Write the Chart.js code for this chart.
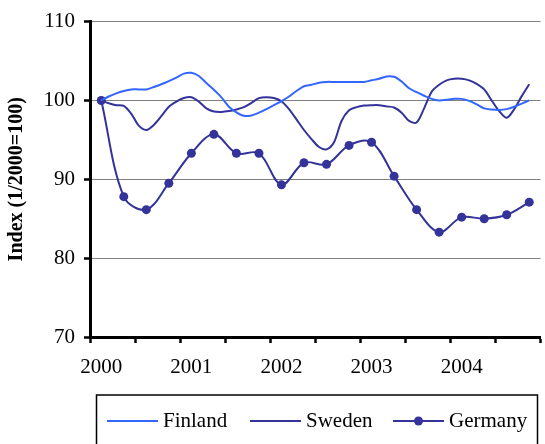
<!DOCTYPE html>
<html>
<head>
<meta charset="utf-8">
<script src="https://cdn.jsdelivr.net/npm/chart.js@4.4.1/dist/chart.umd.min.js"></script>
<style>
  html, body { margin: 0; padding: 0; background: #fff; }
  #wrap { width: 545px; height: 444px; }
</style>
</head>
<body>
<div id="wrap"><canvas id="idx" width="545" height="444"></canvas></div>
<script>
"use strict";

// monthly index values, Jan 2000 .. Oct 2004
const finland = [
  100.0, 100.5, 100.9, 101.2, 101.4, 101.4, 101.4, 101.7, 102.05, 102.45, 102.9, 103.4,
  103.5, 103.1, 102.2, 101.35, 100.4, 99.2, 98.5, 98.05, 98.1, 98.45, 98.9, 99.4,
  99.9, 100.5, 101.2, 101.8, 102.0, 102.25, 102.35, 102.35, 102.35, 102.35, 102.35, 102.35,
  102.55, 102.75, 103.05, 103.0, 102.4, 101.55, 101.05, 100.6, 100.2, 100.0, 100.1, 100.2,
  100.2, 99.95, 99.5, 99.0, 98.85, 98.8, 98.9, 99.2, 99.6, 100.0,
];
const sweden = [
  100.0, 99.65, 99.4, 99.3, 98.3, 96.8, 96.25, 96.9, 98.0, 99.2, 99.85, 100.3,
  100.4, 99.85, 99.0, 98.6, 98.55, 98.65, 98.85, 99.15, 99.7, 100.3, 100.4, 100.3,
  99.9, 98.9, 97.6, 96.25, 95.1, 94.1, 93.8, 94.7, 97.4, 98.75, 99.15, 99.35,
  99.4, 99.4, 99.25, 99.1, 98.45, 97.4, 97.2, 99.0, 101.1, 102.0, 102.55, 102.75,
  102.75, 102.55, 102.1, 101.4, 100.0, 98.65, 97.8, 98.9, 100.55, 102.05,
];
// quarterly values (every third month)
const germany = [
  100.0, 87.8, 86.15, 89.5, 93.3, 95.7, 93.3, 93.3, 89.3, 92.1,
  91.9, 94.3, 94.7, 90.4, 86.15, 83.3, 85.2, 85.0, 85.5, 87.1,
];
const yearLabels = ["2000", "2001", "2002", "2003", "2004"];
const yTicks = [70, 80, 90, 100, 110];

const FONT = "'Liberation Serif', 'Times New Roman', serif";
const LIGHT = "#3366ff";
const DARK = "#333399";

const monthly = (arr) => arr.map((v, i) => ({ x: i, y: v }));
const quarterly = (arr) => arr.map((v, i) => ({ x: i * 3, y: v }));

const boxLegend = {
  id: "boxLegend",
  afterDraw(chart) {
    const ctx = chart.ctx;
    const top = chart.chartArea.bottom + 58;
    const mid = top + 26;
    ctx.save();
    ctx.strokeStyle = "#000";
    ctx.lineWidth = 1.5;
    ctx.strokeRect(96.5, top, 441, 60);
    ctx.font = "21px " + FONT;
    ctx.textBaseline = "middle";
    ctx.fillStyle = "#000";
    const starts = [107, 250, 393];
    chart.data.datasets.forEach((ds, i) => {
      const x0 = starts[i];
      ctx.strokeStyle = ds.borderColor;
      ctx.lineWidth = 2;
      ctx.beginPath();
      ctx.moveTo(x0, mid);
      ctx.lineTo(x0 + 51, mid);
      ctx.stroke();
      if (ds.pointRadius > 0) {
        ctx.fillStyle = ds.pointBackgroundColor;
        ctx.beginPath();
        ctx.arc(x0 + 25.5, mid, ds.pointRadius, 0, Math.PI * 2);
        ctx.fill();
      }
      ctx.fillStyle = "#000";
      ctx.fillText(ds.label, x0 + 56, mid);
    });
    ctx.restore();
  },
};

new Chart(document.getElementById("idx"), {
  type: "line",
  plugins: [boxLegend],
  data: {
    datasets: [
      {
        label: "Finland",
        data: monthly(finland),
        borderColor: LIGHT,
        borderWidth: 2,
        pointRadius: 0,
        tension: 0.3,
      },
      {
        label: "Sweden",
        data: monthly(sweden),
        borderColor: DARK,
        borderWidth: 2,
        pointRadius: 0,
        tension: 0.3,
      },
      {
        label: "Germany",
        data: quarterly(germany),
        borderColor: DARK,
        borderWidth: 2,
        pointRadius: 4.5,
        pointBorderWidth: 0,
        pointBackgroundColor: DARK,
        tension: 0.35,
      },
    ],
  },
  options: {
    responsive: false,
    animation: false,
    layout: { padding: { top: 20, right: 1, left: 0, bottom: 0 } },
    plugins: { legend: { display: false }, tooltip: { enabled: false } },
    scales: {
      x: {
        type: "linear",
        position: "bottom",
        min: -1.5,
        max: 58.5,
        afterBuildTicks: (s) => {
          s.ticks = [];
          for (let v = -1.5; v <= 58.5; v += 6) s.ticks.push({ value: v });
        },
        afterFit: (s) => { s.height = 8; },
        ticks: { display: false },
        grid: {
          drawOnChartArea: false,
          tickLength: 6,
          tickColor: "#000",
          tickWidth: 2.5,
        },
        border: { color: "#000", width: 3 },
      },
      xl: {
        type: "linear",
        position: "bottom",
        min: -1.5,
        max: 58.5,
        afterBuildTicks: (s) => {
          s.ticks = yearLabels.map((_, i) => ({ value: i * 12 }));
        },
        afterFit: (s) => { s.height = 99; },
        ticks: {
          padding: 2,
          color: "#000",
          font: { family: FONT, size: 21 },
          maxRotation: 0,
          autoSkip: false,
          callback: (v) => yearLabels[v / 12],
        },
        grid: { display: false },
        border: { display: false },
      },
      y: {
        min: 70,
        max: 110,
        afterBuildTicks: (s) => { s.ticks = yTicks.map((v) => ({ value: v })); },
        afterFit: (s) => { s.width = 90; },
        ticks: {
          padding: 9,
          color: "#000",
          font: { family: FONT, size: 21 },
        },
        grid: {
          color: "#808080",
          lineWidth: 1,
          tickLength: 6,
          tickColor: "#000",
          tickWidth: 2.5,
        },
        border: { color: "#000", width: 3 },
        title: {
          display: true,
          text: "Index (1/2000=100)",
          color: "#000",
          font: { family: FONT, size: 20, weight: "bold" },
          padding: { top: 5, bottom: 0 },
        },
      },
    },
  },
});
</script>
</body>
</html>
